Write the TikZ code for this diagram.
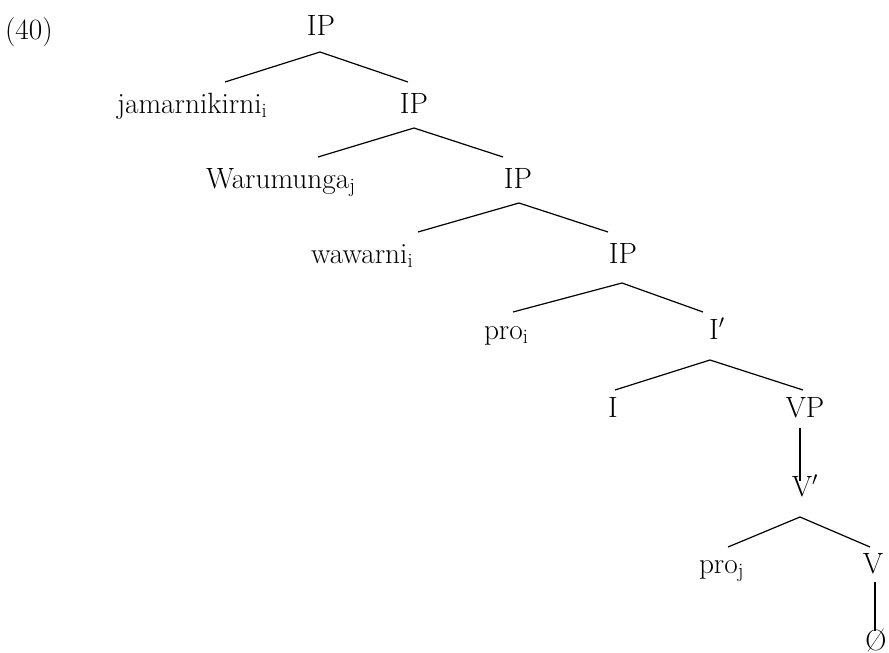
\documentclass[tikz,border=0pt]{standalone}
\begin{document}
\begin{tikzpicture}[x=0.75pt,y=-0.75pt,
  lab/.style={inner sep=0pt,outer sep=0pt,font=\fontsize{22}{26}\selectfont},
  br/.style={line width=0.9pt}]
\useasboundingbox (0,0) rectangle (889,653);
% labels (baselines)
\node[lab,anchor=base west] (ex) at (5,39) {(40)};
\node[lab,anchor=base] (ip1) at (321,35) {IP};
\node[lab,anchor=base west] (jam) at (117,113) {jamarnikirni\textsubscript{i}};
\node[lab,anchor=base] (ip2) at (414,113) {IP};
\node[lab,anchor=base west] (war) at (206,188) {Warumunga\textsubscript{j}};
\node[lab,anchor=base] (ip3) at (518,188) {IP};
\node[lab,anchor=base west] (waw) at (311,263) {wawarni\textsubscript{i}};
\node[lab,anchor=base] (ip4) at (623,263) {IP};
\node[lab,anchor=base west] (proi) at (484,339) {pro\textsubscript{i}};
\node[lab,anchor=base] (ibar) at (717,339) {I$'$};
\node[lab,anchor=base] (i) at (613,417) {I};
\node[lab,anchor=base] (vp) at (805,417) {VP};
\node[lab,anchor=base] (vbar) at (805,496) {V$'$};
\node[lab,anchor=base west] (proj) at (699,573) {pro\textsubscript{j}};
\node[lab,anchor=base] (v) at (873,573) {V};
\node[lab,anchor=base] (zero) at (876,650) {\O};
% branch points
\coordinate (a1) at (320,52); \coordinate (l1) at (225,82); \coordinate (r1) at (408,82);
\coordinate (a2) at (414,128); \coordinate (l2) at (318,157); \coordinate (r2) at (503,157);
\coordinate (a3) at (519,203); \coordinate (l3) at (418,232); \coordinate (r3) at (608,232);
\coordinate (a4) at (622,283); \coordinate (l4) at (513,312); \coordinate (r4) at (703,312);
\coordinate (a5) at (710,360); \coordinate (l5) at (615,390); \coordinate (r5) at (803,390);
\coordinate (t6) at (800,428); \coordinate (b6) at (800,481);
\coordinate (a7) at (800,517); \coordinate (l7) at (728,547); \coordinate (r7) at (870,547);
\coordinate (t8) at (875,582); \coordinate (b8) at (875,631);
\draw[br] (l1) -- (a1) -- (r1);
\draw[br] (l2) -- (a2) -- (r2);
\draw[br] (l3) -- (a3) -- (r3);
\draw[br] (l4) -- (a4) -- (r4);
\draw[br] (l5) -- (a5) -- (r5);
\draw[br] (t6) -- (b6);
\draw[br] (l7) -- (a7) -- (r7);
\draw[br] (t8) -- (b8);
\end{tikzpicture}
\end{document}
